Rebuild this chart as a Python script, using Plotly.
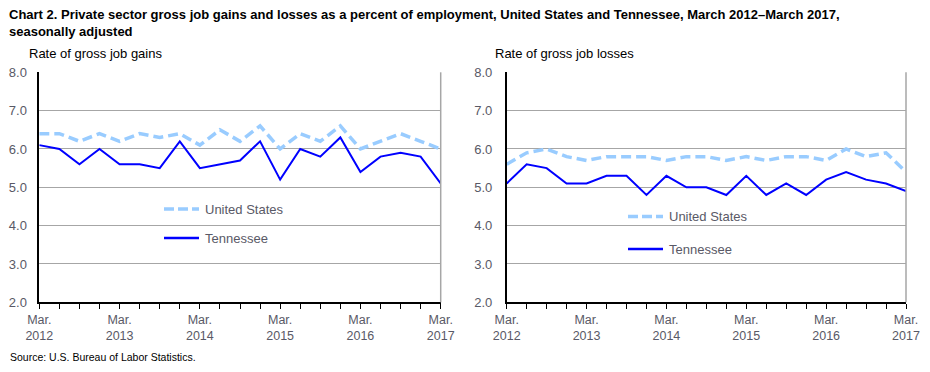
import plotly.graph_objects as go

quarters = list(range(21))
tick_positions = [0, 4, 8, 12, 16, 20]
tick_labels = ["Mar.<br>2012", "Mar.<br>2013", "Mar.<br>2014", "Mar.<br>2015", "Mar.<br>2016", "Mar.<br>2017"]
y_ticks = [2, 3, 4, 5, 6, 7, 8]
y_tick_labels = ["2.0", "3.0", "4.0", "5.0", "6.0", "7.0", "8.0"]

us_gains = [6.4, 6.4, 6.2, 6.4, 6.2, 6.4, 6.3, 6.4, 6.1, 6.5, 6.2, 6.6, 6.0, 6.4, 6.2, 6.6, 6.0, 6.2, 6.4, 6.2, 6.0]
tn_gains = [6.1, 6.0, 5.6, 6.0, 5.6, 5.6, 5.5, 6.2, 5.5, 5.6, 5.7, 6.2, 5.2, 6.0, 5.8, 6.3, 5.4, 5.8, 5.9, 5.8, 5.1]
us_losses = [5.6, 5.9, 6.0, 5.8, 5.7, 5.8, 5.8, 5.8, 5.7, 5.8, 5.8, 5.7, 5.8, 5.7, 5.8, 5.8, 5.7, 6.0, 5.8, 5.9, 5.4]
tn_losses = [5.1, 5.6, 5.5, 5.1, 5.1, 5.3, 5.3, 4.8, 5.3, 5.0, 5.0, 4.8, 5.3, 4.8, 5.1, 4.8, 5.2, 5.4, 5.2, 5.1, 4.9]

US_COLOR = "#99ccff"
TN_COLOR = "#0000ff"
TEXT_COLOR = "#595966"
FONT = "Liberation Sans, Arial, sans-serif"

# page body has an 8px margin; the figure is sized to fit inside the window
OFF = 8
W, H = 914, 356

def px_x(v):
    return (v - OFF) / W

def px_y(v):
    return 1 - (v - OFF) / H

fig = go.Figure()

fig.add_trace(go.Scatter(x=quarters, y=us_gains, mode="lines", name="United States",
                         line=dict(color=US_COLOR, width=3.5, dash="10px,5px"),
                         xaxis="x", yaxis="y", showlegend=False))
fig.add_trace(go.Scatter(x=quarters, y=tn_gains, mode="lines", name="Tennessee",
                         line=dict(color=TN_COLOR, width=2),
                         xaxis="x", yaxis="y", showlegend=False))
fig.add_trace(go.Scatter(x=quarters, y=us_losses, mode="lines", name="United States",
                         line=dict(color=US_COLOR, width=3.5, dash="10px,5px"),
                         xaxis="x2", yaxis="y2", showlegend=False))
fig.add_trace(go.Scatter(x=quarters, y=tn_losses, mode="lines", name="Tennessee",
                         line=dict(color=TN_COLOR, width=2),
                         xaxis="x2", yaxis="y2", showlegend=False))

y_dom = [px_y(302.3), px_y(72.3)]

def xaxis(domain, anchor):
    return dict(
        domain=domain, anchor=anchor, range=[0, 20], automargin=False,
        tickmode="array", tickvals=tick_positions, ticktext=tick_labels,
        ticks="outside", ticklen=5, tickwidth=1, tickcolor="black",
        minor=dict(tickmode="linear", tick0=0, dtick=1, ticks="outside", ticklen=5,
                   tickwidth=1, tickcolor="black", showgrid=False),
        showline=True, linecolor="black", linewidth=1.5,
        showgrid=False, zeroline=False, fixedrange=True,
        tickfont=dict(family=FONT, size=12.5, color=TEXT_COLOR),
    )

def yaxis(anchor, standoff):
    return dict(
        domain=y_dom, anchor=anchor, range=[2, 8], automargin=False,
        tickmode="array", tickvals=y_ticks, ticktext=y_tick_labels,
        ticks="", showline=True, linecolor="black", linewidth=1.5,
        showgrid=True, gridcolor="#a6a6a6", gridwidth=1, zeroline=False,
        ticklabelstandoff=standoff, fixedrange=True,
        tickfont=dict(family=FONT, size=13, color=TEXT_COLOR),
    )

shapes = []
for xr, yr in (("x domain", "y domain"), ("x2 domain", "y2 domain")):
    shapes.append(dict(type="line", xref=xr, yref=yr, x0=1, x1=1, y0=0, y1=1,
                       line=dict(color="#a6a6a6", width=1.5)))

annotations = []
legend_items = [
    (164, 199, 209, "United States", US_COLOR, 3.5, "dash"),
    (164, 199, 238, "Tennessee", TN_COLOR, 2.5, "solid"),
    (628, 663, 216.5, "United States", US_COLOR, 3.5, "dash"),
    (628, 663, 249, "Tennessee", TN_COLOR, 2.5, "solid"),
]
for x0, x1, yy, label, color, width, dash in legend_items:
    shapes.append(dict(type="line", xref="paper", yref="paper",
                       x0=px_x(x0), x1=px_x(x1), y0=px_y(yy), y1=px_y(yy),
                       line=dict(color=color, width=width, dash="10px,4px" if dash == "dash" else "solid")))
    annotations.append(dict(text=label, xref="paper", yref="paper", x=px_x(x1 + 4), y=px_y(yy),
                            xanchor="left", yanchor="middle", showarrow=False,
                            font=dict(family=FONT, size=13, color=TEXT_COLOR)))

annotations.append(dict(
    text="<b>Chart 2. Private sector gross job gains and losses as a percent of employment, United States and Tennessee, March 2012–March 2017,<br>seasonally adjusted</b>",
    xref="paper", yref="paper", x=px_x(7), y=px_y(5), xanchor="left", yanchor="top",
    align="left", showarrow=False, font=dict(family=FONT, size=13, color="black")))
annotations.append(dict(text="Rate of gross job gains", xref="paper", yref="paper",
                        x=px_x(27), y=px_y(53), xanchor="left", yanchor="middle", showarrow=False,
                        font=dict(family=FONT, size=13, color="black")))
annotations.append(dict(text="Rate of gross job losses", xref="paper", yref="paper",
                        x=px_x(493), y=px_y(53), xanchor="left", yanchor="middle", showarrow=False,
                        font=dict(family=FONT, size=13, color="black")))
annotations.append(dict(text="Source: U.S. Bureau of Labor Statistics.", xref="paper", yref="paper",
                        x=px_x(8), y=px_y(357), xanchor="left", yanchor="middle", showarrow=False,
                        font=dict(family=FONT, size=10.5, color="black")))

fig.update_layout(
    width=W, height=H,
    margin=dict(l=0, r=0, t=0, b=0, autoexpand=False),
    paper_bgcolor="white", plot_bgcolor="white",
    xaxis=xaxis([px_x(39.3), px_x(440.7)], "y"),
    yaxis=yaxis("x", 8),
    xaxis2=xaxis([px_x(506.7), px_x(906)], "y2"),
    yaxis2=yaxis("x2", 10),
    shapes=shapes, annotations=annotations,
    showlegend=False,
)

fig.write_html("out.html")
